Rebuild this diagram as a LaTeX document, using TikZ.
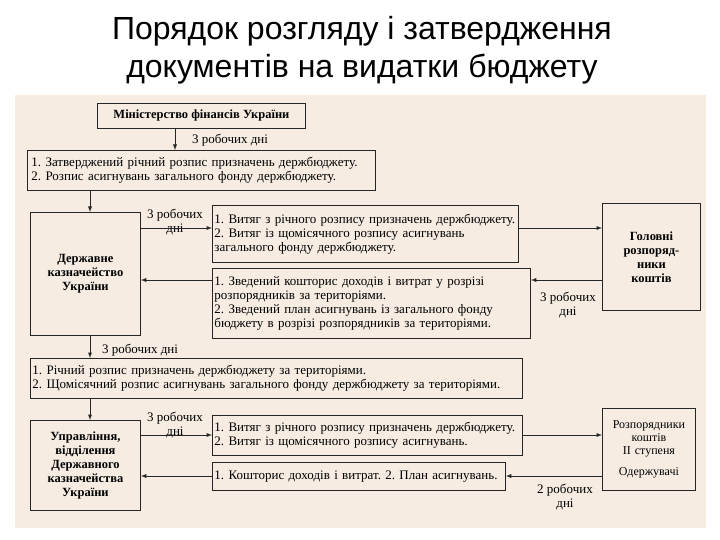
\documentclass[tikz,border=0pt]{standalone}
\usepackage{fontspec}
\setmainfont{Liberation Serif}
\newfontfamily\titlefont{Liberation Sans}
\frenchspacing
\begin{document}
\begin{tikzpicture}[x=1pt,y=-1pt,
 box/.style={draw=black!85,line width=0.9pt,anchor=north west,inner sep=2pt,font=\fontsize{13}{14}\selectfont,align=left},
 cbox/.style={box,align=center,font=\bfseries\fontsize{12.5}{14}\selectfont},
 lbl/.style={font=\fontsize{13}{14}\selectfont,align=center,inner sep=0pt},
 arr/.style={-latex,line width=0.9pt,draw=black!85}]
\useasboundingbox (0,0) rectangle (720,540);
\fill[white] (0,0) rectangle (720,540);
\fill[brown!15!white] (15,95) rectangle (706,528);
\node[font=\titlefont\fontsize{32}{38}\selectfont,align=center] (title) at (362,50) {Порядок розгляду і затвердження\\документів на видатки бюджету};

\node[cbox,minimum width=208,minimum height=25] (mf) at (97,103) {Міністерство фінансів України};
\node[box,minimum width=348,minimum height=40,text width=340] (b1) at (27,150) {1. Затверджений річний розпис призначень держбюджету.\\2. Розпис асигнувань загального фонду держбюджету.};
\node[cbox,minimum width=110,minimum height=123] (dk) at (30,212) {Державне\\казначейство\\України};
\node[box,minimum width=306,minimum height=57,text width=302] (b2) at (212,205) {1. Витяг з річного розпису призначень держбюджету.\\2. Витяг із щомісячного розпису асигнувань\\загального фонду держбюджету.};
\node[box,minimum width=318,minimum height=70,text width=314] (b3) at (212,268) {1. Зведений кошторис доходів і витрат у розрізі\\розпорядників за територіями.\\2. Зведений план асигнувань із загального фонду\\бюджету в розрізі розпорядників за територіями.};
\node[cbox,minimum width=98,minimum height=107] (gr) at (602,203) {Головні\\розпоряд-\\ники\\коштів};
\node[box,minimum width=492,minimum height=40,text width=488] (b4) at (30,358) {1. Річний розпис призначень держбюджету за територіями.\\2. Щомісячний розпис асигнувань загального фонду держбюджету за територіями.};
\node[cbox,minimum width=110,minimum height=90] (uk) at (30,420) {Управління,\\відділення\\Державного\\казначейства\\України};
\node[box,minimum width=310,minimum height=40,text width=306] (b5) at (212,415) {1. Витяг з річного розпису призначень держбюджету.\\2. Витяг із щомісячного розпису асигнувань.};
\node[box,minimum width=293,minimum height=28,text width=289] (b6) at (212,462) {1. Кошторис доходів і витрат. 2. План асигнувань.};
\node[box,align=center,minimum width=93,minimum height=82,text width=89,font=\fontsize{12}{13}\selectfont] (rp) at (602,408) {Розпорядники\\коштів\\ІІ ступеня\\[8pt]Одержувачі};

\node[lbl] (l1) at (230,140) {3 робочих дні};
\node[lbl] (l2) at (175,222) {3 робочих\\дні};
\node[lbl] (l3) at (568,305) {3 робочих\\дні};
\node[lbl] (l4) at (140,350) {3 робочих дні};
\node[lbl] (l5) at (175,425) {3 робочих\\дні};
\node[lbl] (l6) at (565,497) {2 робочих\\дні};

\draw[arr] (mf.south -| 175,0) -- (b1.north -| 175,0);
\draw[arr] (b1.south -| 90,0) -- (dk.north -| 90,0);
\draw[arr] (dk.east |- 0,228) -- (b2.west |- 0,228);
\draw[arr] (b2.east |- 0,228) -- (gr.west |- 0,228);
\draw[arr] (gr.west |- 0,280) -- (b3.east |- 0,280);
\draw[arr] (b3.west |- 0,280) -- (dk.east |- 0,280);
\draw[arr] (dk.south -| 90,0) -- (b4.north -| 90,0);
\draw[arr] (b4.south -| 90,0) -- (uk.north -| 90,0);
\draw[arr] (uk.east |- 0,435) -- (b5.west |- 0,435);
\draw[arr] (b5.east |- 0,435) -- (rp.west |- 0,435);
\draw[arr] (rp.west |- 0,476) -- (b6.east |- 0,476);
\draw[arr] (b6.west |- 0,476) -- (uk.east |- 0,476);
\end{tikzpicture}
\end{document}
